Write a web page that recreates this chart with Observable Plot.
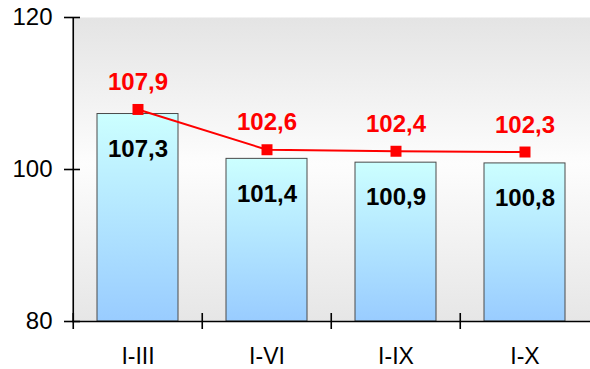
<!DOCTYPE html>
<html>
<head>
<meta charset="utf-8">
<script src="https://cdn.jsdelivr.net/npm/d3@7"></script>
<script src="https://cdn.jsdelivr.net/npm/@observablehq/plot@0.6"></script>
<style>
  html, body { margin: 0; padding: 0; background: #fff; }
  #chart svg { display: block; }
</style>
</head>
<body>
<div id="chart"></div>
<script>
const categories = ["I-III", "I-VI", "I-IX", "I-X"];
const barValues = [107.3, 101.4, 100.9, 100.8];
const lineValues = [107.9, 102.6, 102.4, 102.3];
const yTicks = [80, 100, 120];

const fmt = v => v.toFixed(1).replace(".", ",");
const bars = categories.map((c, i) => ({cat: c, value: barValues[i]}));
const points = categories.map((c, i) => ({cat: c, value: lineValues[i]}));

const W = 590, H = 369;
const mL = 72, mR = 0, mT = 17, mB = 48;
const halfStep = (W - mL - mR) / categories.length / 2;

const defs = () => {
  const d = d3.create("svg:defs");
  const bg = d.append("linearGradient").attr("id", "bgGrad")
    .attr("x1", 0).attr("y1", 0).attr("x2", 0).attr("y2", 1);
  bg.append("stop").attr("offset", "0%").attr("stop-color", "#e4e4e4");
  bg.append("stop").attr("offset", "48%").attr("stop-color", "#fdfdfd");
  bg.append("stop").attr("offset", "100%").attr("stop-color", "#e6e6e6");
  const bar = d.append("linearGradient").attr("id", "barGrad")
    .attr("x1", 0).attr("y1", 0).attr("x2", 0).attr("y2", 1);
  bar.append("stop").attr("offset", "0%").attr("stop-color", "#ccffff");
  bar.append("stop").attr("offset", "100%").attr("stop-color", "#99ccff");
  return d.node();
};

const chart = Plot.plot({
  width: W,
  height: H,
  marginLeft: mL,
  marginRight: mR,
  marginTop: mT,
  marginBottom: mB,
  style: {fontFamily: "'Liberation Sans', Arial, sans-serif", background: "#fff"},
  x: {domain: categories, paddingInner: 0.37, paddingOuter: 0.185, label: null},
  y: {domain: [80, 120], label: null},
  marks: [
    defs,
    Plot.frame({fill: "url(#bgGrad)", stroke: null}),
    Plot.barY(bars, {x: "cat", y1: 80, y2: "value", fill: "url(#barGrad)", stroke: "#4a4a4a", strokeWidth: 1}),
    Plot.text(bars, {x: "cat", y: "value", text: d => fmt(d.value), dy: 35, fontSize: 24, fontWeight: "bold", fill: "#000"}),
    Plot.line(points, {x: "cat", y: "value", stroke: "#ff0000", strokeWidth: 2}),
    Plot.dot(points, {x: "cat", y: "value", symbol: "square", r: 6.2, fill: "#ff0000", stroke: "none"}),
    Plot.text(points, {x: "cat", y: "value", text: d => fmt(d.value), dy: -27, fontSize: 24, fontWeight: "bold", fill: "#ff0000"}),
    // axis lines
    Plot.ruleY([80], {stroke: "#000", strokeWidth: 1.6}),
    Plot.ruleX([categories[0]], {dx: -halfStep, y1: 80, y2: 120, stroke: "#000", strokeWidth: 1.6}),
    // y ticks crossing the axis
    Plot.ruleY(yTicks, {insetLeft: -8, insetRight: W - mL - mR - 8, stroke: "#000", strokeWidth: 1.6}),
    Plot.axisY({ticks: yTicks, tickSize: 0, tickPadding: 20, fontSize: 24, fill: "#000", tickFormat: d => d}),
    // x boundary ticks crossing the axis
    Plot.ruleX(categories, {x: d => d, y1: 80, y2: 80, dx: -halfStep, insetTop: -8, insetBottom: -8, stroke: "#000", strokeWidth: 1.6}),
    Plot.axisX({tickSize: 0, tickPadding: 26, fontSize: 23, fill: "#000"})
  ]
});
document.getElementById("chart").appendChild(chart);
</script>
</body>
</html>
